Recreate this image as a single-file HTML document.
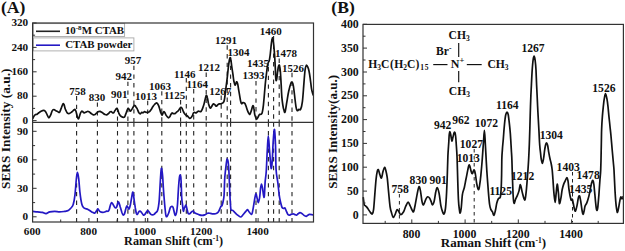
<!DOCTYPE html><html><head><meta charset="utf-8"><style>html,body{margin:0;padding:0;background:#fff;width:625px;height:251px;overflow:hidden}svg{display:block}text{font-family:"Liberation Serif", serif;font-weight:bold;fill:#111}</style></head><body>
<svg width="625" height="251" viewBox="0 0 625 251">
<rect width="625" height="251" fill="#fff"/>
<text x="1.0" y="12.7" font-size="17.60" text-anchor="start" >(A)</text>
<rect x="33.3" y="23.6" width="91.3" height="12.9" fill="#fff" stroke="#a8a8a8" stroke-width="0.9"/>
<rect x="33.3" y="37.9" width="100.6" height="13" fill="#fff" stroke="#a8a8a8" stroke-width="0.9"/>
<line x1="36" y1="31.3" x2="60" y2="31.3" stroke="#222" stroke-width="1.6"/>
<line x1="36" y1="45.2" x2="60" y2="45.2" stroke="#2418c4" stroke-width="1.6"/>
<text x="64.9" y="34.0" font-size="10.9">10<tspan dy="-4" font-size="7">-8</tspan><tspan dy="4">M CTAB</tspan></text>
<text x="65.2" y="48.0" font-size="10.90" text-anchor="start" >CTAB powder</text>
<line x1="76.6" y1="96.0" x2="76.6" y2="122.3" stroke="#222" stroke-width="1.1" stroke-dasharray="4.4 4.3"/>
<line x1="76.6" y1="122.3" x2="76.6" y2="222.0" stroke="#222" stroke-width="1.1" stroke-dasharray="4.4 4.3"/>
<line x1="97.4" y1="102.4" x2="97.4" y2="122.3" stroke="#222" stroke-width="1.1" stroke-dasharray="4.4 4.3"/>
<line x1="97.4" y1="122.3" x2="97.4" y2="222.0" stroke="#222" stroke-width="1.1" stroke-dasharray="4.4 4.3"/>
<line x1="117.5" y1="99.0" x2="117.5" y2="122.3" stroke="#222" stroke-width="1.1" stroke-dasharray="4.4 4.3"/>
<line x1="117.5" y1="122.3" x2="117.5" y2="222.0" stroke="#222" stroke-width="1.1" stroke-dasharray="4.4 4.3"/>
<line x1="127.9" y1="81.7" x2="127.9" y2="122.3" stroke="#222" stroke-width="1.1" stroke-dasharray="4.4 4.3"/>
<line x1="127.9" y1="122.3" x2="127.9" y2="222.0" stroke="#222" stroke-width="1.1" stroke-dasharray="4.4 4.3"/>
<line x1="133.9" y1="65.7" x2="133.9" y2="122.3" stroke="#222" stroke-width="1.1" stroke-dasharray="4.4 4.3"/>
<line x1="133.9" y1="122.3" x2="133.9" y2="222.0" stroke="#222" stroke-width="1.1" stroke-dasharray="4.4 4.3"/>
<line x1="147.7" y1="100.8" x2="147.7" y2="122.3" stroke="#222" stroke-width="1.1" stroke-dasharray="4.4 4.3"/>
<line x1="147.7" y1="122.3" x2="147.7" y2="222.0" stroke="#222" stroke-width="1.1" stroke-dasharray="4.4 4.3"/>
<line x1="161.8" y1="91.2" x2="161.8" y2="122.3" stroke="#222" stroke-width="1.1" stroke-dasharray="4.4 4.3"/>
<line x1="161.8" y1="122.3" x2="161.8" y2="222.0" stroke="#222" stroke-width="1.1" stroke-dasharray="4.4 4.3"/>
<line x1="180.6" y1="100.0" x2="180.6" y2="122.3" stroke="#222" stroke-width="1.1" stroke-dasharray="4.4 4.3"/>
<line x1="180.6" y1="122.3" x2="180.6" y2="222.0" stroke="#222" stroke-width="1.1" stroke-dasharray="4.4 4.3"/>
<line x1="186.3" y1="78.0" x2="186.3" y2="122.3" stroke="#222" stroke-width="1.1" stroke-dasharray="4.4 4.3"/>
<line x1="186.3" y1="122.3" x2="186.3" y2="222.0" stroke="#222" stroke-width="1.1" stroke-dasharray="4.4 4.3"/>
<line x1="193.7" y1="89.0" x2="193.7" y2="122.3" stroke="#222" stroke-width="1.1" stroke-dasharray="4.4 4.3"/>
<line x1="193.7" y1="122.3" x2="193.7" y2="222.0" stroke="#222" stroke-width="1.1" stroke-dasharray="4.4 4.3"/>
<line x1="206.2" y1="72.5" x2="206.2" y2="122.3" stroke="#222" stroke-width="1.1" stroke-dasharray="4.4 4.3"/>
<line x1="206.2" y1="122.3" x2="206.2" y2="222.0" stroke="#222" stroke-width="1.1" stroke-dasharray="4.4 4.3"/>
<line x1="221.2" y1="95.6" x2="221.2" y2="122.3" stroke="#222" stroke-width="1.1" stroke-dasharray="4.4 4.3"/>
<line x1="221.2" y1="122.3" x2="221.2" y2="222.0" stroke="#222" stroke-width="1.1" stroke-dasharray="4.4 4.3"/>
<line x1="227.2" y1="45.3" x2="227.2" y2="122.3" stroke="#222" stroke-width="1.1" stroke-dasharray="4.4 4.3"/>
<line x1="227.2" y1="122.3" x2="227.2" y2="222.0" stroke="#222" stroke-width="1.1" stroke-dasharray="4.4 4.3"/>
<line x1="230.6" y1="57.0" x2="230.6" y2="122.3" stroke="#222" stroke-width="1.1" stroke-dasharray="4.4 4.3"/>
<line x1="230.6" y1="122.3" x2="230.6" y2="222.0" stroke="#222" stroke-width="1.1" stroke-dasharray="4.4 4.3"/>
<line x1="256.0" y1="81.0" x2="256.0" y2="122.3" stroke="#222" stroke-width="1.1" stroke-dasharray="4.4 4.3"/>
<line x1="256.0" y1="122.3" x2="256.0" y2="222.0" stroke="#222" stroke-width="1.1" stroke-dasharray="4.4 4.3"/>
<line x1="268.4" y1="67.0" x2="268.4" y2="122.3" stroke="#222" stroke-width="1.1" stroke-dasharray="4.4 4.3"/>
<line x1="268.4" y1="122.3" x2="268.4" y2="222.0" stroke="#222" stroke-width="1.1" stroke-dasharray="4.4 4.3"/>
<line x1="273.6" y1="36.0" x2="273.6" y2="122.3" stroke="#222" stroke-width="1.1" stroke-dasharray="4.4 4.3"/>
<line x1="273.6" y1="122.3" x2="273.6" y2="222.0" stroke="#222" stroke-width="1.1" stroke-dasharray="4.4 4.3"/>
<line x1="279.2" y1="58.5" x2="279.2" y2="122.3" stroke="#222" stroke-width="1.1" stroke-dasharray="4.4 4.3"/>
<line x1="279.2" y1="122.3" x2="279.2" y2="222.0" stroke="#222" stroke-width="1.1" stroke-dasharray="4.4 4.3"/>
<line x1="292.0" y1="72.8" x2="292.0" y2="122.3" stroke="#222" stroke-width="1.1" stroke-dasharray="4.4 4.3"/>
<line x1="292.0" y1="122.3" x2="292.0" y2="222.0" stroke="#222" stroke-width="1.1" stroke-dasharray="4.4 4.3"/>
<text x="69.3" y="95.1" font-size="11.00" text-anchor="start" >758</text>
<text x="88.8" y="101.0" font-size="11.00" text-anchor="start" >830</text>
<text x="110.9" y="97.7" font-size="11.00" text-anchor="start" >901</text>
<text x="115.6" y="80.4" font-size="11.00" text-anchor="start" >942</text>
<text x="124.7" y="64.4" font-size="11.00" text-anchor="start" >957</text>
<text x="135.0" y="100.4" font-size="11.00" text-anchor="start" >1013</text>
<text x="149.1" y="90.4" font-size="11.00" text-anchor="start" >1063</text>
<text x="163.9" y="98.9" font-size="11.00" text-anchor="start" >1125</text>
<text x="174.0" y="77.7" font-size="11.00" text-anchor="start" >1146</text>
<text x="186.5" y="88.0" font-size="11.00" text-anchor="start" >1164</text>
<text x="197.9" y="70.7" font-size="11.00" text-anchor="start" >1212</text>
<text x="209.2" y="95.3" font-size="11.00" text-anchor="start" >1267</text>
<text x="214.9" y="43.5" font-size="11.00" text-anchor="start" >1291</text>
<text x="227.4" y="56.1" font-size="11.00" text-anchor="start" >1304</text>
<text x="242.5" y="79.4" font-size="11.00" text-anchor="start" >1393</text>
<text x="247.0" y="66.5" font-size="11.00" text-anchor="start" >1435</text>
<text x="259.8" y="34.6" font-size="11.00" text-anchor="start" >1460</text>
<text x="275.0" y="56.7" font-size="11.00" text-anchor="start" >1478</text>
<text x="281.9" y="72.0" font-size="11.00" text-anchor="start" >1526</text>
<path d="M32.9 118.5C33.1 118.1 33.4 116.9 33.9 116.2C34.4 115.5 35.0 114.8 35.6 114.5C36.2 114.2 36.7 114.5 37.2 114.2C37.8 113.9 38.2 113.3 38.9 112.8C39.5 112.3 40.3 111.6 41.1 111.2C41.9 110.8 43.1 110.3 43.9 110.4C44.6 110.5 45.0 110.9 45.6 111.7C46.2 112.5 46.8 114.1 47.3 115.1C47.8 116.1 48.3 117.8 48.9 117.8C49.5 117.8 50.0 116.3 50.6 115.1C51.2 113.9 51.7 111.5 52.3 110.6C52.9 109.7 53.5 109.5 54.0 109.5C54.5 109.5 55.0 110.2 55.6 110.6C56.2 111.0 57.2 111.4 57.9 111.7C58.5 112.0 59.0 112.8 59.5 112.3C60.0 111.8 60.6 109.8 61.2 108.4C61.8 107.0 62.4 104.6 62.9 103.9C63.4 103.2 63.6 103.7 64.0 104.5C64.4 105.3 64.8 107.5 65.1 108.5C65.4 109.5 65.8 110.1 66.1 110.8C66.4 111.5 66.7 112.3 67.2 112.8C67.7 113.3 68.3 113.6 68.9 113.6C69.5 113.6 70.0 113.1 70.6 112.8C71.1 112.5 71.7 112.2 72.2 111.7C72.8 111.2 73.4 110.4 73.9 110.0C74.4 109.6 74.6 109.2 75.0 109.5C75.4 109.8 75.7 110.5 76.1 111.7C76.5 112.9 76.9 115.5 77.3 116.7C77.7 117.9 78.0 119.1 78.4 119.0C78.8 118.9 79.1 117.2 79.5 116.2C79.9 115.2 80.2 113.6 80.6 112.8C81.0 112.0 81.3 111.4 81.7 111.2C82.1 111.0 82.4 111.4 82.8 111.7C83.2 112.0 83.7 112.7 84.2 112.8C84.7 112.9 85.1 112.5 85.6 112.3C86.1 112.1 86.7 111.6 87.3 111.5C87.9 111.4 88.5 111.5 89.0 111.7C89.5 111.9 89.6 112.2 90.1 112.6C90.5 113.0 91.2 113.5 91.7 113.9C92.2 114.3 92.8 114.7 93.4 114.8C94.0 114.9 94.5 114.8 95.1 114.5C95.7 114.2 96.2 113.3 96.8 112.8C97.3 112.3 97.9 111.9 98.4 111.7C99.0 111.5 99.5 111.3 100.1 111.4C100.6 111.5 101.2 112.0 101.7 112.3C102.2 112.6 102.8 113.0 103.3 113.4C103.8 113.8 104.4 114.3 105.0 114.5C105.6 114.7 106.1 114.9 106.7 114.8C107.3 114.7 107.9 114.2 108.4 113.7C109.0 113.2 109.5 112.3 110.0 111.9C110.5 111.5 110.7 111.4 111.1 111.5C111.5 111.6 111.9 112.4 112.3 112.6C112.7 112.8 113.1 113.1 113.6 112.8C114.0 112.5 114.5 111.3 115.0 110.6C115.5 109.9 116.2 108.5 116.7 108.4C117.2 108.3 117.4 109.2 117.8 110.0C118.2 110.8 118.5 112.5 118.9 113.4C119.3 114.3 119.8 115.0 120.3 115.6C120.8 116.1 121.2 116.4 121.7 116.7C122.2 117.0 122.9 117.3 123.4 117.3C123.9 117.3 124.3 117.3 124.7 116.7C125.1 116.1 125.4 114.9 125.8 113.9C126.2 112.9 126.6 111.5 127.0 110.6C127.4 109.7 127.7 108.6 128.1 108.4C128.5 108.2 128.8 109.0 129.2 109.5C129.6 110.0 129.9 111.1 130.3 111.2C130.7 111.3 131.0 110.5 131.4 110.0C131.8 109.5 132.1 109.1 132.5 108.4C132.9 107.7 133.6 106.0 134.0 105.6C134.4 105.2 134.8 105.5 135.2 105.8C135.6 106.1 135.9 106.9 136.3 107.5C136.7 108.1 137.1 108.6 137.5 109.5C137.9 110.4 138.4 112.1 138.9 112.8C139.4 113.5 139.8 114.0 140.3 113.9C140.8 113.8 141.2 112.5 141.7 112.3C142.1 112.1 142.5 112.9 143.0 112.8C143.5 112.7 144.0 111.8 144.5 111.7C145.0 111.6 145.5 112.2 146.1 112.3C146.7 112.4 147.2 112.4 147.8 112.3C148.4 112.2 148.9 112.2 149.5 111.7C150.1 111.2 150.6 110.3 151.2 109.5C151.8 108.7 152.2 107.5 152.8 106.7C153.4 105.9 153.9 105.1 154.5 104.5C155.1 103.9 155.7 103.2 156.2 103.0C156.7 102.8 156.9 103.0 157.3 103.4C157.7 103.8 158.2 104.7 158.6 105.6C159.0 106.5 159.3 107.7 159.7 108.9C160.1 110.1 160.4 111.8 160.8 112.8C161.2 113.8 161.7 115.0 162.0 115.1C162.3 115.2 162.6 114.0 162.9 113.4C163.2 112.8 163.4 111.8 163.7 111.7C164.0 111.6 164.5 112.2 164.9 112.8C165.3 113.4 165.6 114.4 166.0 115.1C166.4 115.8 166.9 116.2 167.3 116.7C167.7 117.2 168.0 117.8 168.4 117.8C168.8 117.8 169.4 117.2 169.8 116.7C170.2 116.2 170.5 115.1 170.9 114.5C171.3 113.9 171.6 113.2 172.0 113.0C172.4 112.8 172.8 113.5 173.4 113.6C174.0 113.7 174.8 113.7 175.3 113.4C175.8 113.2 176.2 112.5 176.6 112.1C177.0 111.7 177.4 111.6 177.9 111.1C178.4 110.6 179.0 109.7 179.5 109.1C180.0 108.5 180.4 107.5 180.8 107.4C181.2 107.3 181.7 107.8 182.1 108.4C182.5 109.0 182.8 110.2 183.2 111.1C183.6 112.0 184.1 113.0 184.5 113.7C184.9 114.4 185.4 114.7 185.8 115.0C186.2 115.3 186.7 115.4 187.1 115.7C187.5 116.0 188.0 116.6 188.4 117.0C188.8 117.4 189.2 118.2 189.7 118.3C190.1 118.4 190.6 118.0 191.1 117.6C191.6 117.2 192.0 116.5 192.4 115.7C192.8 114.9 193.0 113.5 193.4 113.0C193.8 112.5 194.2 112.4 194.7 112.4C195.1 112.4 195.6 113.1 196.1 113.0C196.6 112.9 197.0 112.0 197.4 111.7C197.8 111.4 198.3 111.1 198.7 111.1C199.1 111.1 199.6 111.7 200.0 111.7C200.4 111.7 200.9 111.6 201.3 111.1C201.7 110.5 202.2 109.5 202.6 108.4C203.0 107.3 203.4 106.1 203.9 104.5C204.4 102.9 204.9 100.1 205.3 98.6C205.7 97.1 206.0 95.4 206.3 95.3C206.7 95.2 207.1 96.6 207.4 97.9C207.8 99.2 208.1 101.7 208.4 103.2C208.8 104.7 209.2 106.0 209.5 106.8C209.8 107.6 209.9 108.3 210.3 108.2C210.7 108.1 211.3 106.9 211.8 106.2C212.3 105.5 212.8 104.2 213.3 103.9C213.8 103.7 214.3 104.3 214.8 104.7C215.3 105.1 215.9 106.2 216.4 106.2C216.9 106.2 217.4 105.1 217.9 104.7C218.4 104.3 218.9 104.0 219.4 103.9C219.9 103.8 220.4 104.0 220.9 103.9C221.4 103.8 221.9 103.6 222.4 103.2C222.9 102.8 223.5 102.6 223.9 101.7C224.3 100.8 224.4 99.7 224.7 97.9C225.0 96.1 225.2 93.2 225.5 91.1C225.8 88.9 226.0 87.2 226.3 85.0C226.6 82.8 226.8 81.2 227.2 78.0C227.6 74.8 228.1 69.0 228.5 66.0C228.9 63.0 229.1 61.4 229.4 60.0C229.7 58.6 229.8 57.7 230.1 57.7C230.3 57.7 230.7 58.7 230.9 60.0C231.2 61.3 231.3 63.1 231.6 65.4C231.9 67.8 232.5 71.5 232.9 74.1C233.3 76.6 233.4 78.9 233.8 80.7C234.2 82.5 234.6 84.9 235.1 85.1C235.6 85.3 236.2 82.0 236.6 81.8C237.0 81.6 237.3 82.5 237.7 84.0C238.1 85.5 238.4 88.4 238.8 90.6C239.2 92.8 239.6 95.2 239.9 97.1C240.2 99.0 240.5 100.7 240.8 101.8C241.1 102.9 241.3 103.7 241.7 103.8C242.0 103.9 242.4 102.7 242.9 102.6C243.4 102.5 244.1 102.7 244.6 103.2C245.1 103.7 245.5 104.7 245.9 105.8C246.3 106.9 246.8 108.5 247.2 109.7C247.6 110.9 248.1 112.2 248.6 113.0C249.1 113.8 249.5 114.6 249.9 114.3C250.3 114.0 250.8 112.4 251.2 111.1C251.6 109.8 252.2 107.3 252.5 106.4C252.8 105.5 253.0 105.5 253.2 105.8C253.4 106.1 253.7 107.0 253.9 108.4C254.2 109.8 254.4 112.8 254.7 114.3C255.0 115.8 255.5 116.8 255.8 117.6C256.2 118.4 256.5 119.2 256.8 119.2C257.1 119.2 257.5 118.2 257.8 117.6C258.1 117.0 258.4 116.2 258.7 115.7C259.0 115.2 259.3 114.5 259.7 114.3C260.1 114.1 260.7 114.5 261.1 114.3C261.5 114.1 261.8 114.0 262.1 113.0C262.4 112.0 262.7 110.4 263.0 108.4C263.3 106.4 263.6 103.6 263.8 101.0C264.1 98.4 264.3 95.5 264.5 93.0C264.7 90.5 264.9 88.3 265.1 86.0C265.3 83.7 265.6 81.2 265.8 79.0C266.1 76.8 266.3 74.6 266.6 72.5C266.9 70.4 267.1 68.2 267.4 66.5C267.7 64.8 268.0 63.4 268.3 62.5C268.6 61.6 268.9 61.8 269.1 61.0C269.4 60.2 269.6 58.8 269.8 57.5C270.0 56.2 270.2 55.0 270.4 53.0C270.6 51.0 270.9 48.0 271.1 45.8C271.4 43.6 271.6 41.4 271.9 40.0C272.1 38.6 272.4 37.7 272.6 37.7C272.8 37.7 273.0 38.6 273.2 40.0C273.4 41.4 273.6 43.0 273.8 45.8C274.1 48.5 274.4 52.8 274.7 56.5C274.9 60.2 275.1 64.8 275.3 68.0C275.5 71.2 275.5 73.9 275.6 76.0C275.7 78.1 275.9 80.1 276.1 80.5C276.3 80.9 276.5 80.2 276.8 78.5C277.1 76.8 277.5 72.1 277.8 70.0C278.1 67.9 278.3 66.8 278.6 66.0C278.9 65.2 279.2 64.5 279.5 65.5C279.8 66.5 280.1 68.8 280.4 72.0C280.7 75.2 280.9 80.7 281.2 85.0C281.4 89.3 281.6 94.3 281.9 97.6C282.2 100.9 282.5 102.7 282.8 104.8C283.1 106.9 283.5 108.8 283.9 110.0C284.3 111.2 284.6 113.4 285.1 112.0C285.6 110.6 286.3 105.0 286.9 101.6C287.5 98.1 288.0 94.3 288.7 91.3C289.4 88.3 290.2 85.0 290.8 83.5C291.4 82.0 291.7 81.8 292.1 82.2C292.5 82.6 293.0 83.7 293.4 86.1C293.8 88.5 294.3 93.0 294.7 96.5C295.1 100.0 295.6 104.4 296.0 106.8C296.4 109.2 296.7 110.3 297.2 110.7C297.7 111.1 298.4 109.6 299.0 109.4C299.6 109.2 300.0 110.7 300.6 109.4C301.2 108.1 301.9 105.5 302.4 101.6C302.9 97.7 303.3 91.3 303.7 86.1C304.1 80.9 304.6 74.0 305.0 70.5C305.4 67.0 305.9 66.0 306.3 65.4C306.7 64.8 307.2 65.9 307.6 66.7C308.0 67.5 308.5 68.6 308.9 70.5C309.3 72.4 309.8 75.3 310.2 78.3C310.6 81.3 311.1 86.1 311.5 88.7C311.9 91.3 312.5 92.8 312.8 93.9C313.1 95.0 313.2 95.2 313.3 95.5" fill="none" stroke="#111" stroke-width="1.7" stroke-linejoin="round"/>
<path d="M32.8 211.4C33.6 211.5 35.8 211.7 37.4 211.9C39.0 212.1 41.0 212.1 42.4 212.4C43.8 212.7 44.8 213.7 46.0 213.6C47.2 213.5 48.3 212.3 49.8 211.9C51.2 211.5 53.1 211.4 54.7 211.4C56.3 211.4 58.0 211.9 59.6 211.9C61.2 211.9 63.1 211.6 64.6 211.4C66.0 211.2 67.3 211.1 68.3 210.6C69.3 210.1 70.0 209.2 70.8 208.2C71.6 207.2 72.5 206.8 73.2 204.5C73.9 202.2 74.5 198.9 75.0 194.6C75.5 190.3 76.0 182.2 76.4 178.5C76.8 174.8 77.0 172.4 77.4 172.4C77.8 172.4 78.3 175.2 78.7 178.5C79.1 181.8 79.4 187.8 79.9 192.1C80.4 196.4 81.2 201.8 81.9 204.5C82.6 207.2 83.3 207.4 84.3 208.2C85.3 209.0 86.8 208.8 88.0 209.4C89.2 210.0 90.7 211.3 91.8 211.9C92.9 212.5 93.9 213.3 94.7 213.1C95.5 212.9 96.2 211.3 96.7 210.6C97.2 209.9 97.4 208.8 97.9 208.9C98.4 209.0 98.9 210.8 99.7 211.4C100.5 212.0 101.8 212.4 102.9 212.4C104.1 212.4 105.7 211.4 106.6 211.2C107.5 211.0 107.8 211.6 108.3 211.2C108.8 210.8 109.1 209.9 109.4 209.0C109.7 208.1 109.9 206.6 110.3 205.5C110.7 204.4 111.1 202.6 111.6 202.5C112.1 202.4 112.7 203.9 113.2 204.7C113.7 205.5 114.2 206.9 114.8 207.4C115.3 207.9 116.0 208.3 116.5 207.4C117.0 206.5 117.7 202.7 118.1 202.0C118.5 201.3 118.8 202.3 119.1 203.1C119.4 203.9 119.8 205.3 120.2 206.8C120.7 208.3 121.3 210.8 121.8 212.2C122.3 213.5 122.6 214.6 123.1 214.9C123.5 215.2 124.0 214.9 124.5 213.8C125.0 212.7 125.5 209.7 125.9 208.4C126.3 207.1 126.6 205.9 127.0 205.8C127.4 205.7 127.8 207.4 128.1 207.9C128.4 208.4 128.7 209.5 129.1 209.0C129.5 208.5 130.0 206.4 130.4 204.7C130.8 202.9 131.1 200.6 131.5 198.5C131.9 196.4 132.3 193.0 132.6 192.3C132.9 191.6 133.1 193.2 133.4 194.5C133.7 195.8 133.9 198.2 134.2 200.4C134.5 202.6 135.0 205.8 135.3 207.9C135.7 210.1 136.0 212.2 136.3 213.3C136.7 214.4 137.0 214.6 137.4 214.4C137.8 214.2 138.1 212.8 138.5 212.2C138.9 211.6 139.6 211.0 140.1 211.1C140.6 211.2 141.2 212.1 141.7 212.7C142.2 213.3 142.8 214.6 143.3 214.9C143.8 215.2 144.4 214.9 144.9 214.4C145.4 213.9 146.1 212.3 146.6 211.7C147.1 211.1 147.4 210.5 147.8 210.6C148.2 210.7 148.7 211.6 149.2 212.2C149.7 212.8 150.3 213.9 150.9 214.4C151.5 214.9 152.0 214.9 152.5 214.9C153.0 214.9 153.6 214.8 154.1 214.4C154.6 214.0 155.2 213.2 155.7 212.7C156.2 212.1 156.9 212.1 157.3 211.1C157.8 210.1 158.1 208.6 158.4 206.8C158.7 205.0 158.9 204.0 159.2 200.4C159.5 196.8 159.8 190.3 160.1 185.0C160.4 179.7 160.9 170.3 161.3 168.6C161.7 166.9 162.1 171.2 162.5 174.8C162.9 178.4 163.1 184.8 163.5 190.0C163.9 195.2 164.4 201.6 164.8 205.8C165.2 210.0 165.5 213.6 165.9 215.4C166.3 217.2 166.6 216.8 167.0 216.5C167.4 216.2 168.0 214.8 168.6 213.3C169.2 211.8 169.8 208.6 170.4 207.4C171.0 206.2 171.6 206.3 172.0 206.3C172.4 206.3 172.7 206.2 173.1 207.4C173.5 208.6 174.1 212.0 174.5 213.3C174.9 214.6 175.2 215.6 175.5 215.4C175.8 215.2 176.3 213.8 176.6 212.2C176.9 210.6 177.2 208.1 177.4 205.8C177.6 203.5 177.7 201.7 177.9 198.2C178.1 194.7 178.4 188.6 178.7 185.0C179.0 181.4 179.3 178.1 179.6 176.5C179.9 174.9 180.2 174.6 180.4 175.3C180.7 176.1 180.9 177.3 181.1 181.0C181.3 184.7 181.5 193.4 181.7 197.2C181.9 201.0 182.1 201.3 182.4 203.6C182.7 205.9 183.0 210.2 183.3 211.1C183.6 212.0 183.8 209.8 184.1 209.0C184.4 208.2 184.9 206.9 185.2 206.3C185.5 205.7 185.7 204.8 186.0 205.2C186.3 205.6 186.7 207.7 187.0 209.0C187.3 210.3 187.7 212.5 188.1 213.3C188.5 214.1 189.2 214.0 189.7 213.8C190.2 213.6 190.8 212.6 191.3 212.2C191.9 211.8 192.4 211.0 193.0 211.1C193.6 211.2 194.0 212.2 194.6 212.7C195.2 213.1 195.9 213.4 196.7 213.8C197.5 214.2 198.5 214.6 199.4 214.9C200.3 215.2 201.2 215.4 202.1 215.4C203.0 215.4 203.9 215.2 204.8 214.9C205.7 214.6 206.6 213.6 207.5 213.3C208.4 213.0 209.3 213.2 210.2 213.3C211.1 213.4 211.9 213.7 212.8 213.8C213.7 213.9 214.7 214.0 215.5 213.8C216.3 213.6 217.1 213.3 217.7 212.7C218.3 212.1 218.8 211.2 219.3 210.1C219.8 209.0 220.5 207.1 220.9 206.3C221.3 205.5 221.6 206.3 222.0 205.5C222.4 204.7 222.8 203.2 223.1 201.5C223.4 199.8 223.8 199.0 224.1 195.0C224.4 191.0 224.4 182.5 224.8 177.3C225.2 172.1 225.9 166.8 226.3 163.7C226.7 160.6 226.9 158.8 227.3 159.0C227.7 159.2 228.2 161.5 228.5 165.0C228.8 168.5 229.1 175.0 229.3 180.0C229.5 185.0 229.7 191.0 229.9 195.0C230.1 199.0 230.2 201.6 230.4 204.0C230.6 206.4 230.6 208.6 231.0 209.7C231.4 210.8 232.2 210.0 232.8 210.4C233.4 210.8 233.9 211.6 234.7 212.3C235.4 213.0 236.3 214.0 237.3 214.8C238.3 215.6 239.6 217.0 240.5 217.0C241.4 217.0 242.2 215.7 243.0 214.8C243.8 213.9 244.8 212.5 245.6 211.7C246.3 210.8 246.9 209.6 247.5 209.7C248.1 209.8 248.7 211.5 249.4 212.3C250.1 213.1 251.0 214.8 251.6 214.5C252.2 214.2 252.3 212.8 252.8 210.4C253.3 208.0 254.0 203.0 254.5 200.2C255.0 197.4 255.4 194.2 255.8 193.8C256.2 193.4 256.6 196.1 257.0 197.6C257.4 199.1 257.9 202.7 258.3 202.7C258.7 202.7 259.2 200.0 259.6 197.6C260.0 195.2 260.3 190.3 260.6 188.0C260.9 185.7 261.2 184.0 261.5 184.0C261.8 184.0 262.2 186.2 262.5 188.0C262.8 189.8 263.2 193.6 263.5 195.0C263.8 196.4 264.0 198.6 264.3 196.5C264.6 194.4 264.8 186.5 265.1 182.4C265.4 178.3 265.8 177.4 266.2 172.0C266.6 166.6 266.9 156.0 267.3 150.0C267.7 144.0 267.9 136.0 268.3 136.0C268.7 136.0 269.1 145.0 269.5 150.0C269.9 155.0 270.5 163.0 270.8 166.0C271.1 169.0 271.2 169.0 271.5 168.0C271.8 167.0 272.0 164.7 272.3 160.0C272.6 155.3 272.9 145.1 273.3 140.0C273.7 134.9 274.1 128.6 274.5 129.4C274.9 130.2 275.2 138.2 275.5 145.0C275.8 151.8 275.7 163.8 276.1 170.0C276.5 176.2 277.3 178.2 277.8 182.4C278.3 186.6 278.8 191.7 279.2 194.9C279.6 198.1 279.9 199.4 280.4 201.5C280.9 203.6 281.5 206.2 282.0 207.4C282.5 208.6 283.1 208.3 283.6 208.4C284.1 208.5 284.4 207.5 284.9 207.9C285.3 208.3 285.8 210.0 286.3 211.1C286.8 212.2 287.4 213.7 287.9 214.4C288.4 215.1 289.0 215.2 289.5 215.2C290.0 215.2 290.5 214.6 291.1 214.4C291.7 214.2 292.7 213.8 293.3 213.8C293.9 213.8 294.4 214.4 294.9 214.6C295.4 214.8 296.0 215.3 296.5 215.2C297.0 215.1 297.5 214.2 298.1 213.8C298.7 213.4 299.4 212.8 300.0 212.7C300.6 212.6 301.2 213.1 301.9 213.5C302.6 213.9 303.3 214.9 304.0 215.4C304.7 215.9 305.6 216.3 306.2 216.3C306.8 216.3 307.3 215.5 307.8 215.2C308.3 214.9 308.7 214.5 309.4 214.4C310.1 214.3 311.5 214.6 312.1 214.7C312.8 214.8 313.1 214.9 313.3 215.0" fill="none" stroke="#2418c4" stroke-width="1.7" stroke-linejoin="round"/>
<rect x="32.6" y="23.0" width="280.9" height="199.0" fill="none" stroke="#333" stroke-width="1.2"/>
<line x1="32.6" y1="122.3" x2="313.5" y2="122.3" stroke="#333" stroke-width="1.2"/>
<line x1="32.6" y1="120.6" x2="36.6" y2="120.6" stroke="#333" stroke-width="1"/>
<text x="22.6" y="123.8" font-size="11.20" text-anchor="start" >0</text>
<line x1="32.6" y1="108.4" x2="35.1" y2="108.4" stroke="#333" stroke-width="1"/>
<line x1="32.6" y1="96.2" x2="36.6" y2="96.2" stroke="#333" stroke-width="1"/>
<text x="17.0" y="99.4" font-size="11.20" text-anchor="start" >80</text>
<line x1="32.6" y1="84.0" x2="35.1" y2="84.0" stroke="#333" stroke-width="1"/>
<line x1="32.6" y1="71.8" x2="36.6" y2="71.8" stroke="#333" stroke-width="1"/>
<text x="11.4" y="75.0" font-size="11.20" text-anchor="start" >160</text>
<line x1="32.6" y1="59.6" x2="35.1" y2="59.6" stroke="#333" stroke-width="1"/>
<line x1="32.6" y1="47.4" x2="36.6" y2="47.4" stroke="#333" stroke-width="1"/>
<text x="11.4" y="50.6" font-size="11.20" text-anchor="start" >240</text>
<line x1="32.6" y1="35.2" x2="35.1" y2="35.2" stroke="#333" stroke-width="1"/>
<line x1="32.6" y1="23.0" x2="36.6" y2="23.0" stroke="#333" stroke-width="1"/>
<text x="11.4" y="26.2" font-size="11.20" text-anchor="start" >320</text>
<line x1="32.6" y1="216.8" x2="36.6" y2="216.8" stroke="#333" stroke-width="1"/>
<text x="22.6" y="220.0" font-size="11.20" text-anchor="start" >0</text>
<line x1="32.6" y1="202.6" x2="35.1" y2="202.6" stroke="#333" stroke-width="1"/>
<line x1="32.6" y1="188.3" x2="36.6" y2="188.3" stroke="#333" stroke-width="1"/>
<text x="17.0" y="191.5" font-size="11.20" text-anchor="start" >30</text>
<line x1="32.6" y1="174.1" x2="35.1" y2="174.1" stroke="#333" stroke-width="1"/>
<line x1="32.6" y1="159.8" x2="36.6" y2="159.8" stroke="#333" stroke-width="1"/>
<text x="17.0" y="163.0" font-size="11.20" text-anchor="start" >60</text>
<line x1="32.6" y1="145.6" x2="35.1" y2="145.6" stroke="#333" stroke-width="1"/>
<line x1="32.6" y1="131.3" x2="36.6" y2="131.3" stroke="#333" stroke-width="1"/>
<text x="17.0" y="134.5" font-size="11.20" text-anchor="start" >90</text>
<line x1="32.5" y1="222.0" x2="32.5" y2="218.0" stroke="#333" stroke-width="1"/>
<text x="23.8" y="235.0" font-size="11.20" text-anchor="start" >600</text>
<line x1="60.7" y1="222.0" x2="60.7" y2="219.5" stroke="#333" stroke-width="1"/>
<line x1="88.9" y1="222.0" x2="88.9" y2="218.0" stroke="#333" stroke-width="1"/>
<text x="80.2" y="235.0" font-size="11.20" text-anchor="start" >800</text>
<line x1="117.1" y1="222.0" x2="117.1" y2="219.5" stroke="#333" stroke-width="1"/>
<line x1="145.3" y1="222.0" x2="145.3" y2="218.0" stroke="#333" stroke-width="1"/>
<text x="133.6" y="235.0" font-size="11.20" text-anchor="start" >1000</text>
<line x1="173.5" y1="222.0" x2="173.5" y2="219.5" stroke="#333" stroke-width="1"/>
<line x1="201.7" y1="222.0" x2="201.7" y2="218.0" stroke="#333" stroke-width="1"/>
<text x="190.0" y="235.0" font-size="11.20" text-anchor="start" >1200</text>
<line x1="229.9" y1="222.0" x2="229.9" y2="219.5" stroke="#333" stroke-width="1"/>
<line x1="258.1" y1="222.0" x2="258.1" y2="218.0" stroke="#333" stroke-width="1"/>
<text x="246.4" y="235.0" font-size="11.20" text-anchor="start" >1400</text>
<line x1="286.3" y1="222.0" x2="286.3" y2="219.5" stroke="#333" stroke-width="1"/>
<text x="173.6" y="245.4" font-size="12.2" text-anchor="middle">Raman Shift (cm<tspan dy="-4.5" font-size="7.5">-1</tspan><tspan dy="4.5">)</tspan></text>
<text transform="translate(10.3,128.8) rotate(-90)" x="0" y="0" font-size="13.4" text-anchor="middle">SERS Intensity (a.u.)</text>
<text x="331.3" y="13.2" font-size="17.60" text-anchor="start" >(B)</text>
<line x1="399.4" y1="194.0" x2="399.4" y2="222.5" stroke="#222" stroke-width="1" stroke-dasharray="3.5 3.5"/>
<line x1="474.2" y1="149.0" x2="474.2" y2="222.5" stroke="#222" stroke-width="1" stroke-dasharray="3.5 3.5"/>
<line x1="572.5" y1="172.0" x2="572.5" y2="222.5" stroke="#222" stroke-width="1" stroke-dasharray="3.5 3.5"/>
<text x="391.4" y="193.3" font-size="11.60" text-anchor="start" >758</text>
<text x="409.6" y="183.5" font-size="11.60" text-anchor="start" >830</text>
<text x="429.5" y="183.5" font-size="11.60" text-anchor="start" >901</text>
<text x="433.9" y="128.5" font-size="11.60" text-anchor="start" >942</text>
<text x="452.2" y="123.7" font-size="11.60" text-anchor="start" >962</text>
<text x="456.7" y="161.7" font-size="11.60" text-anchor="start" >1013</text>
<text x="459.8" y="147.9" font-size="11.60" text-anchor="start" >1027</text>
<text x="474.8" y="126.7" font-size="11.60" text-anchor="start" >1072</text>
<text x="489.4" y="194.7" font-size="11.60" text-anchor="start" >1125</text>
<text x="496.0" y="108.6" font-size="11.60" text-anchor="start" >1164</text>
<text x="511.0" y="179.6" font-size="11.60" text-anchor="start" >1212</text>
<text x="521.4" y="51.9" font-size="11.60" text-anchor="start" >1267</text>
<text x="539.7" y="138.7" font-size="11.60" text-anchor="start" >1304</text>
<text x="556.6" y="171.3" font-size="11.60" text-anchor="start" >1403</text>
<text x="569.1" y="193.4" font-size="11.60" text-anchor="start" >1435</text>
<text x="576.5" y="179.3" font-size="11.60" text-anchor="start" >1478</text>
<text x="592.3" y="92.0" font-size="11.60" text-anchor="start" >1526</text>
<path d="M363.2 197.1C363.4 198.3 363.8 203.1 364.2 204.5C364.6 205.9 365.0 205.3 365.4 205.7C365.8 206.1 366.1 206.3 366.6 206.9C367.1 207.5 367.8 208.5 368.4 209.4C369.0 210.3 369.8 211.7 370.4 212.4C371.0 213.2 371.8 214.4 372.3 213.9C372.8 213.4 373.2 212.6 373.6 209.4C374.0 206.2 374.4 199.5 374.8 194.6C375.2 189.7 375.6 183.7 376.0 179.8C376.4 175.9 376.9 172.8 377.3 171.1C377.7 169.4 378.1 169.2 378.5 169.9C378.9 170.6 379.5 173.7 380.0 175.0C380.5 176.3 381.0 178.6 381.5 178.0C382.0 177.4 382.5 173.3 383.0 171.5C383.5 169.7 384.1 167.7 384.5 167.4C384.9 167.1 385.2 168.2 385.7 169.9C386.1 171.6 386.7 173.6 387.2 177.3C387.7 181.0 388.1 187.2 388.6 192.1C389.1 197.0 389.6 203.4 390.1 206.9C390.6 210.4 391.1 211.3 391.6 213.1C392.1 214.9 392.7 217.3 393.3 217.5C393.9 217.7 394.7 215.3 395.3 214.0C395.9 212.7 396.4 210.0 397.0 209.6C397.6 209.2 398.2 210.7 398.8 211.5C399.4 212.3 399.9 214.7 400.7 214.7C401.5 214.7 402.7 213.2 403.6 211.7C404.5 210.2 405.1 207.5 405.9 205.9C406.7 204.3 407.5 202.2 408.2 202.2C408.9 202.2 409.5 204.6 410.2 205.9C410.9 207.2 411.6 209.2 412.2 210.2C412.8 211.1 413.1 212.5 413.6 211.6C414.1 210.7 414.6 208.0 415.2 204.8C415.8 201.6 416.9 195.3 417.5 192.3C418.1 189.3 418.6 186.8 419.1 186.6C419.6 186.4 420.0 188.6 420.5 191.1C421.0 193.6 421.5 199.1 422.0 201.4C422.5 203.7 423.0 205.2 423.6 204.8C424.2 204.4 425.2 200.4 425.9 199.1C426.6 197.8 427.1 197.0 427.7 196.8C428.3 196.6 428.9 197.2 429.5 198.0C430.1 198.8 430.6 200.3 431.1 201.4C431.6 202.5 431.8 204.8 432.3 204.8C432.8 204.8 433.5 203.5 434.1 201.4C434.7 199.3 435.2 194.6 435.7 192.3C436.2 190.0 436.7 187.5 437.3 187.7C437.9 187.9 438.5 190.4 439.1 193.4C439.7 196.4 440.3 202.9 440.9 205.9C441.5 208.9 442.0 210.3 442.5 211.6C443.0 212.9 443.6 214.5 444.1 213.9C444.6 213.3 445.1 211.8 445.5 208.2C445.9 204.6 446.3 198.3 446.6 192.3C446.9 186.3 447.2 178.1 447.4 172.0C447.6 165.9 447.7 161.0 447.9 156.0C448.1 151.0 448.6 145.5 448.8 142.0C449.0 138.5 449.0 136.8 449.2 135.0C449.4 133.2 449.5 131.5 449.8 131.5C450.1 131.5 450.5 133.4 450.8 135.0C451.1 136.6 451.5 140.7 451.9 141.0C452.3 141.3 452.6 138.3 453.0 137.0C453.4 135.7 453.7 133.8 454.0 133.0C454.3 132.2 454.6 131.9 454.9 132.4C455.2 132.9 455.4 134.4 455.6 136.0C455.8 137.6 455.9 138.7 456.1 142.0C456.3 145.3 456.8 151.0 457.0 156.0C457.2 161.0 457.3 164.8 457.5 172.0C457.7 179.2 458.1 192.7 458.4 199.1C458.7 205.5 459.2 208.2 459.5 210.5C459.8 212.8 459.9 213.4 460.2 213.0C460.5 212.6 460.8 211.3 461.2 208.2C461.6 205.1 461.9 198.1 462.4 194.6C462.9 191.1 463.8 189.9 464.4 187.2C465.0 184.5 465.5 181.4 466.1 178.5C466.7 175.6 467.3 172.2 467.8 169.9C468.3 167.6 468.8 164.7 469.3 164.9C469.9 165.1 470.6 169.7 471.1 171.1C471.6 172.5 471.8 173.8 472.3 173.6C472.8 173.4 473.5 169.9 474.0 169.9C474.5 169.9 474.9 171.3 475.3 173.6C475.8 175.9 476.2 180.8 476.7 183.5C477.2 186.2 478.0 189.4 478.5 189.6C479.0 189.8 479.3 187.2 479.7 184.7C480.1 182.2 480.5 178.9 480.9 174.8C481.3 170.7 481.8 165.2 482.2 160.0C482.6 154.8 483.0 148.2 483.4 143.3C483.8 138.4 484.1 130.3 484.4 130.3C484.7 130.3 485.0 138.4 485.3 143.3C485.6 148.2 485.9 154.8 486.2 160.0C486.5 165.2 486.7 169.5 487.1 174.8C487.5 180.2 488.0 187.2 488.4 192.1C488.8 197.0 489.2 201.6 489.6 204.5C490.0 207.4 490.3 208.2 490.8 209.4C491.3 210.6 492.0 210.9 492.5 211.9C493.0 212.9 493.5 215.6 494.0 215.3C494.5 215.0 495.0 212.1 495.5 210.0C496.0 207.9 496.3 204.9 496.8 203.0C497.3 201.1 497.9 199.5 498.5 198.5C499.1 197.5 499.9 198.8 500.3 197.0C500.8 195.2 501.0 191.7 501.2 188.0C501.4 184.3 501.5 179.7 501.6 175.0C501.7 170.3 501.7 164.3 501.8 160.0C501.9 155.7 502.1 152.9 502.4 149.4C502.6 145.9 503.0 142.6 503.3 139.1C503.6 135.6 503.8 131.8 504.1 128.7C504.4 125.6 504.6 122.8 504.9 120.4C505.2 118.0 505.4 115.9 505.8 114.5C506.2 113.1 506.6 112.1 507.0 112.1C507.4 112.1 507.9 113.1 508.2 114.5C508.5 115.9 508.7 118.0 509.0 120.4C509.3 122.8 509.6 125.6 509.9 128.7C510.2 131.8 510.5 135.6 510.7 139.1C510.9 142.6 511.1 145.9 511.3 149.4C511.5 152.9 511.8 156.6 511.9 160.0C512.0 163.4 512.1 166.3 512.2 170.0C512.3 173.7 512.5 177.8 512.6 182.0C512.8 186.2 512.9 191.5 513.1 195.0C513.3 198.5 513.6 202.4 514.0 203.2C514.4 203.9 515.0 200.7 515.5 199.5C516.0 198.3 516.6 197.2 517.2 195.8C517.8 194.4 518.5 192.8 519.0 190.9C519.5 189.1 519.9 184.5 520.4 184.7C520.9 184.9 521.6 189.8 522.2 192.1C522.8 194.4 523.4 197.1 523.9 198.3C524.4 199.5 524.7 200.9 525.1 199.5C525.5 198.1 526.0 193.7 526.4 189.6C526.8 185.5 527.2 179.7 527.6 174.8C528.0 169.9 528.3 165.0 528.6 160.0C528.9 155.0 529.1 150.0 529.3 145.0C529.5 140.0 529.6 135.5 529.8 130.0C530.0 124.5 530.1 117.8 530.3 112.0C530.5 106.2 530.7 99.5 530.9 95.0C531.1 90.5 531.2 89.2 531.4 85.0C531.6 80.8 531.9 74.2 532.2 70.0C532.5 65.8 532.8 62.3 533.1 60.0C533.4 57.7 533.8 56.2 534.1 56.2C534.4 56.2 534.8 57.7 535.1 60.0C535.4 62.3 535.8 65.8 536.0 70.0C536.2 74.2 536.4 80.8 536.6 85.0C536.8 89.2 536.9 90.5 537.1 95.0C537.3 99.5 537.6 106.2 537.9 112.0C538.2 117.8 538.6 124.5 538.9 130.0C539.2 135.5 539.4 141.2 539.7 145.0C540.0 148.8 540.2 150.4 540.5 152.7C540.8 155.0 540.9 157.0 541.2 158.8C541.5 160.6 542.0 163.3 542.4 163.3C542.8 163.3 543.1 160.8 543.5 158.8C543.9 156.8 544.2 153.5 544.5 151.2C544.8 148.9 545.2 146.6 545.5 145.2C545.8 143.8 546.1 142.9 546.5 142.9C546.9 142.9 547.2 143.6 547.6 145.2C548.0 146.8 548.4 150.4 548.8 152.7C549.2 155.0 549.6 157.0 550.0 158.8C550.4 160.6 550.7 161.4 551.1 163.3C551.5 165.2 551.9 167.4 552.2 170.0C552.5 172.6 552.6 174.8 552.9 178.8C553.2 182.8 553.6 189.9 554.0 193.8C554.4 197.7 554.8 202.4 555.1 202.4C555.5 202.4 555.8 196.9 556.1 193.8C556.5 190.8 556.8 184.4 557.2 184.1C557.6 183.8 557.9 188.5 558.3 191.7C558.7 194.9 559.0 202.4 559.4 203.5C559.8 204.6 560.4 200.4 560.9 198.1C561.4 195.8 561.7 191.8 562.2 189.5C562.7 187.2 563.2 185.5 563.7 184.1C564.2 182.7 564.7 182.0 565.2 180.9C565.7 179.8 566.4 177.7 566.9 177.7C567.4 177.7 567.6 178.9 568.0 180.9C568.4 182.9 568.6 187.0 569.0 189.5C569.4 192.0 569.7 194.2 570.1 196.0C570.5 197.8 570.8 199.8 571.2 200.3C571.6 200.8 571.9 198.7 572.3 199.2C572.6 199.7 572.9 201.9 573.3 203.5C573.6 205.1 574.0 207.7 574.4 208.9C574.8 210.2 575.1 211.6 575.5 211.0C575.9 210.4 576.5 207.8 577.0 205.6C577.5 203.4 577.9 199.7 578.3 198.1C578.7 196.5 579.2 195.3 579.6 196.0C580.0 196.7 580.5 200.1 580.9 202.4C581.3 204.7 581.6 208.0 582.0 210.0C582.4 212.0 582.6 214.1 583.0 214.3C583.4 214.5 583.8 212.3 584.1 211.0C584.4 209.7 584.6 207.5 585.0 206.2C585.4 204.9 586.2 204.3 586.7 203.1C587.2 201.9 587.6 200.7 588.1 199.0C588.6 197.3 589.2 194.9 589.6 192.8C590.0 190.7 590.4 188.3 590.8 186.6C591.2 184.9 591.4 183.4 591.8 182.4C592.1 181.4 592.5 180.1 592.9 180.4C593.2 180.8 593.6 182.1 593.9 184.5C594.2 186.9 594.5 191.2 594.9 194.8C595.2 198.4 595.7 203.6 596.0 206.2C596.3 208.8 596.5 210.2 596.8 210.4C597.1 210.6 597.4 209.9 597.8 207.3C598.1 204.7 598.5 199.3 598.9 194.8C599.2 190.3 599.6 184.5 599.9 180.4C600.2 176.3 600.5 175.1 600.7 170.0C600.9 164.9 601.1 156.7 601.2 150.0C601.4 143.3 601.4 135.7 601.6 130.0C601.8 124.3 602.1 120.0 602.4 116.1C602.7 112.2 603.0 109.5 603.3 106.7C603.6 103.9 603.8 101.4 604.2 99.2C604.6 97.0 605.0 93.6 605.5 93.6C606.0 93.6 606.6 97.0 607.0 99.2C607.4 101.4 607.7 103.9 608.0 106.7C608.3 109.5 608.6 113.0 608.9 116.1C609.2 119.2 609.6 122.3 609.9 125.5C610.2 128.7 610.5 130.9 610.9 135.0C611.3 139.1 611.8 145.5 612.2 150.0C612.6 154.5 613.0 158.7 613.3 162.0C613.6 165.3 613.8 166.6 614.0 170.0C614.2 173.4 614.4 177.9 614.6 182.4C614.8 186.9 615.1 192.6 615.4 196.9C615.7 201.2 616.1 205.7 616.5 208.3C616.9 210.9 617.1 212.6 617.5 212.4C617.9 212.2 618.3 209.2 618.7 207.3C619.1 205.4 619.4 202.8 619.8 201.1C620.1 199.4 620.4 197.2 620.8 196.9C621.1 196.6 621.5 199.0 621.9 199.0C622.2 199.0 622.7 197.2 622.9 196.9C623.1 196.7 623.2 197.4 623.2 197.5" fill="none" stroke="#111" stroke-width="1.7" stroke-linejoin="round"/>
<rect x="363.0" y="24.4" width="260.4" height="199.0" fill="none" stroke="#333" stroke-width="1.2"/>
<line x1="363.0" y1="214.9" x2="367.0" y2="214.9" stroke="#333" stroke-width="1"/>
<text x="352.8" y="218.6" font-size="11.80" text-anchor="start" >0</text>
<line x1="363.0" y1="203.0" x2="365.5" y2="203.0" stroke="#333" stroke-width="1"/>
<line x1="363.0" y1="191.1" x2="367.0" y2="191.1" stroke="#333" stroke-width="1"/>
<text x="346.9" y="194.7" font-size="11.80" text-anchor="start" >50</text>
<line x1="363.0" y1="179.2" x2="365.5" y2="179.2" stroke="#333" stroke-width="1"/>
<line x1="363.0" y1="167.2" x2="367.0" y2="167.2" stroke="#333" stroke-width="1"/>
<text x="341.0" y="170.9" font-size="11.80" text-anchor="start" >100</text>
<line x1="363.0" y1="155.3" x2="365.5" y2="155.3" stroke="#333" stroke-width="1"/>
<line x1="363.0" y1="143.4" x2="367.0" y2="143.4" stroke="#333" stroke-width="1"/>
<text x="341.0" y="147.1" font-size="11.80" text-anchor="start" >150</text>
<line x1="363.0" y1="131.5" x2="365.5" y2="131.5" stroke="#333" stroke-width="1"/>
<line x1="363.0" y1="119.6" x2="367.0" y2="119.6" stroke="#333" stroke-width="1"/>
<text x="341.0" y="123.3" font-size="11.80" text-anchor="start" >200</text>
<line x1="363.0" y1="107.7" x2="365.5" y2="107.7" stroke="#333" stroke-width="1"/>
<line x1="363.0" y1="95.8" x2="367.0" y2="95.8" stroke="#333" stroke-width="1"/>
<text x="341.0" y="99.4" font-size="11.80" text-anchor="start" >250</text>
<line x1="363.0" y1="83.9" x2="365.5" y2="83.9" stroke="#333" stroke-width="1"/>
<line x1="363.0" y1="72.0" x2="367.0" y2="72.0" stroke="#333" stroke-width="1"/>
<text x="341.0" y="75.6" font-size="11.80" text-anchor="start" >300</text>
<line x1="363.0" y1="60.0" x2="365.5" y2="60.0" stroke="#333" stroke-width="1"/>
<line x1="363.0" y1="48.1" x2="367.0" y2="48.1" stroke="#333" stroke-width="1"/>
<text x="341.0" y="51.8" font-size="11.80" text-anchor="start" >350</text>
<line x1="363.0" y1="36.2" x2="365.5" y2="36.2" stroke="#333" stroke-width="1"/>
<line x1="363.0" y1="24.3" x2="367.0" y2="24.3" stroke="#333" stroke-width="1"/>
<text x="341.0" y="28.0" font-size="11.80" text-anchor="start" >400</text>
<line x1="385.2" y1="223.4" x2="385.2" y2="220.9" stroke="#333" stroke-width="1"/>
<line x1="411.8" y1="223.4" x2="411.8" y2="219.4" stroke="#333" stroke-width="1"/>
<text x="402.7" y="237.5" font-size="11.80" text-anchor="start" >800</text>
<line x1="438.4" y1="223.4" x2="438.4" y2="220.9" stroke="#333" stroke-width="1"/>
<line x1="465.1" y1="223.4" x2="465.1" y2="219.4" stroke="#333" stroke-width="1"/>
<text x="452.7" y="237.5" font-size="11.80" text-anchor="start" >1000</text>
<line x1="491.7" y1="223.4" x2="491.7" y2="220.9" stroke="#333" stroke-width="1"/>
<line x1="518.3" y1="223.4" x2="518.3" y2="219.4" stroke="#333" stroke-width="1"/>
<text x="506.0" y="237.5" font-size="11.80" text-anchor="start" >1200</text>
<line x1="545.0" y1="223.4" x2="545.0" y2="220.9" stroke="#333" stroke-width="1"/>
<line x1="571.6" y1="223.4" x2="571.6" y2="219.4" stroke="#333" stroke-width="1"/>
<text x="559.2" y="237.5" font-size="11.80" text-anchor="start" >1400</text>
<line x1="598.2" y1="223.4" x2="598.2" y2="220.9" stroke="#333" stroke-width="1"/>
<text x="493.4" y="247.2" font-size="13" text-anchor="middle">Raman Shift (cm<tspan dy="-4.5" font-size="7.5">-1</tspan><tspan dy="4.5">)</tspan></text>
<text transform="translate(337,131.9) rotate(-90)" x="0" y="0" font-size="13" text-anchor="middle">SERS Intensity(a.u.)</text>
<text x="368.2" y="67.6" font-size="11.6"><tspan>H</tspan><tspan font-size="7.5" dy="2">3</tspan><tspan dy="-2">C</tspan><tspan dx="0.6">(</tspan><tspan dx="0.5">H</tspan><tspan font-size="7.5" dy="2">2</tspan><tspan dy="-2">C)</tspan><tspan font-size="7.5" dy="2" dx="0.8" letter-spacing="0.8">15</tspan></text>
<line x1="433.2" y1="64.6" x2="447.5" y2="64.6" stroke="#111" stroke-width="1.15"/>
<text x="450.8" y="67.6" font-size="12">N<tspan font-size="8.5" dy="-4.6">+</tspan></text>
<line x1="466.8" y1="64.6" x2="481.7" y2="64.6" stroke="#111" stroke-width="1.15"/>
<text x="487.4" y="67.8" font-size="11.6">CH<tspan font-size="7.5" dy="1.8">3</tspan></text>
<text x="448.6" y="39.2" font-size="11.6">CH<tspan font-size="7.5" dy="1.8">3</tspan></text>
<text x="448.8" y="94.7" font-size="11.6">CH<tspan font-size="7.5" dy="1.8">3</tspan></text>
<line x1="458.7" y1="43" x2="458.7" y2="57" stroke="#111" stroke-width="1.15"/>
<line x1="458.7" y1="70.9" x2="458.7" y2="82.3" stroke="#111" stroke-width="1.15"/>
<text x="436" y="55" font-size="11.6">Br<tspan font-size="7.5" dy="-4.5">-</tspan></text>
</svg></body></html>
